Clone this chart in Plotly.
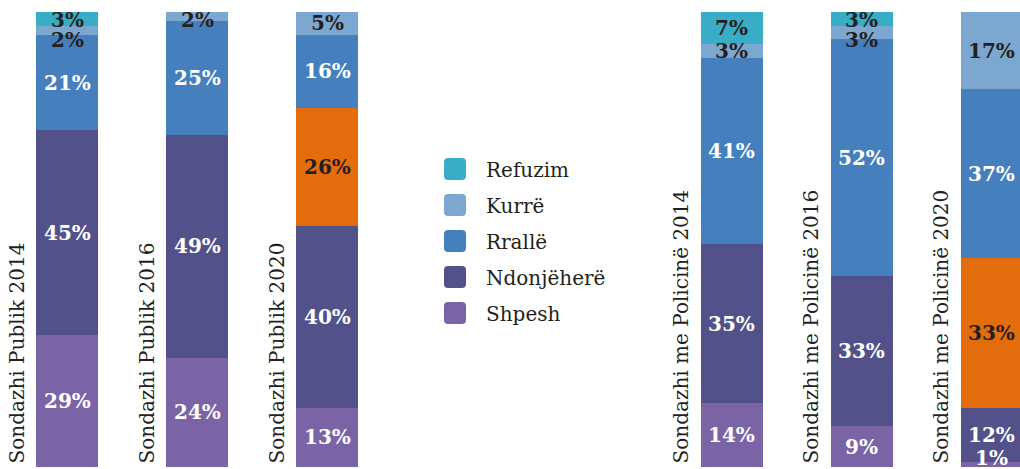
import plotly.graph_objects as go

W, H = 1020, 469
MT, MB = 12, 2

categories = ["Sondazhi Publik 2014", "Sondazhi Publik 2016", "Sondazhi Publik 2020",
              "Sondazhi me Policinë 2014", "Sondazhi me Policinë 2016", "Sondazhi me Policinë 2020"]

# series, bottom to top
shpesh = [29, 24, 13, 14, 9, 1]
ndonjehere = [45, 49, 40, 35, 33, 12]
tjeter = [0, 0, 26, 0, 0, 33]          # orange segment (not in legend)
ralle = [21, 25, 16, 41, 52, 37]
kurre = [2, 2, 5, 3, 3, 17]
refuzim = [3, 0, 0, 7, 3, 0]

series = [
    ("Shpesh", shpesh, "#7A64A6", "white", True),
    ("Ndonjëherë", ndonjehere, "#52518A", "white", True),
    ("", tjeter, "#E36C0C", "#231F20", False),
    ("Rrallë", ralle, "#457FBE", "white", True),
    ("Kurrë", kurre, "#7BA7D1", "#231F20", True),
    ("Refuzim", refuzim, "#3AADC6", "#231F20", True),
]

SERIF = "DejaVu Serif"

fig = go.Figure()
groups = [(0, 3, "x", "y"), (3, 6, "x2", "y2")]
for name, vals, color, tcol, inleg in series:
    for (a, b, xa, ya) in groups:
        fig.add_trace(go.Bar(
            x=[0, 1, 2], y=vals[a:b], name=name, marker=dict(color=color, line=dict(width=0)),
            width=0.47, xaxis=xa, yaxis=ya, showlegend=False, hoverinfo="skip"))

annotations = []
# value labels
gap = 4.4
for i in range(6):
    xa = "x" if i < 3 else "x2"
    ya = "y" if i < 3 else "y2"
    xi = i % 3
    segs = []
    base = 0
    for name, vals, color, tcol, inleg in series:
        v = vals[i]
        if v > 0:
            segs.append([base + v / 2, v, tcol])
        base += v
    # bottom-up spacing
    prev = None
    for s in segs:
        lo = 2.0 if prev is None else prev + gap
        if s[0] < lo:
            s[0] = lo
        prev = s[0]
    # top-down spacing
    prev = None
    for s in reversed(segs):
        hi = 98.3 if prev is None else prev - gap
        if s[0] > hi:
            s[0] = hi
        prev = s[0]
    for yc, v, tcol in segs:
        annotations.append(dict(x=xi, y=yc, xref=xa, yref=ya, text=f"{v}%", showarrow=False,
                                font=dict(family=SERIF, size=20, color=tcol, weight="bold"),
                                xanchor="center", yanchor="middle"))
    # category label, rotated
    annotations.append(dict(x=xi - 0.385, y=0, xref=xa, yref=ya, text=categories[i], showarrow=False,
                            textangle=-90, xanchor="center", yanchor="bottom", yshift=2,
                            font=dict(family=SERIF, size=20, color="#231F20")))

# manual legend (pixel layout converted to paper coordinates of the plot area)
shapes = []
legend_items = [s for s in reversed(series) if s[4]]
lx0, lsize, ly0, lstep, r = 444, 22, 158, 36, 4
PH = H - MT - MB


def px(x):
    return x / W


def py(y):
    return 1 - (y - MT) / PH


for k, (name, vals, color, tcol, inleg) in enumerate(legend_items):
    x0 = lx0
    y0 = ly0 + k * lstep
    x1, y1 = x0 + lsize, y0 + lsize
    path = (f"M{px(x0 + r)},{py(y0)} L{px(x1 - r)},{py(y0)} Q{px(x1)},{py(y0)} {px(x1)},{py(y0 + r)} "
            f"L{px(x1)},{py(y1 - r)} Q{px(x1)},{py(y1)} {px(x1 - r)},{py(y1)} "
            f"L{px(x0 + r)},{py(y1)} Q{px(x0)},{py(y1)} {px(x0)},{py(y1 - r)} "
            f"L{px(x0)},{py(y0 + r)} Q{px(x0)},{py(y0)} {px(x0 + r)},{py(y0)} Z")
    shapes.append(dict(type="path", path=path, xref="paper", yref="paper",
                       fillcolor=color, line=dict(width=0)))
    annotations.append(dict(x=px(484), y=py(y0 + lsize / 2 + 1), xref="paper", yref="paper",
                            text=name, showarrow=False, xanchor="left", yanchor="middle",
                            font=dict(family=SERIF, size=20, color="#231F20")))

cat_w = 130
d1 = (2 / W, 392 / W)
d2 = (666.5 / W, 1.0)
r2 = -0.5 + (W - 666.5) / cat_w

fig.update_layout(
    width=W, height=H, barmode="stack", bargap=0,
    margin=dict(l=0, r=0, t=MT, b=MB),
    paper_bgcolor="white", plot_bgcolor="white",
    xaxis=dict(domain=list(d1), range=[-0.5, 2.5], visible=False),
    xaxis2=dict(domain=list(d2), range=[-0.5, r2], visible=False, anchor="y2"),
    yaxis=dict(range=[0, 100], visible=False),
    yaxis2=dict(range=[0, 100], visible=False, anchor="x2"),
    annotations=annotations, shapes=shapes, showlegend=False,
)

fig.write_html("out.html", config={"displayModeBar": False},
               post_script="document.body.style.margin='0';document.body.style.overflow='hidden';")
